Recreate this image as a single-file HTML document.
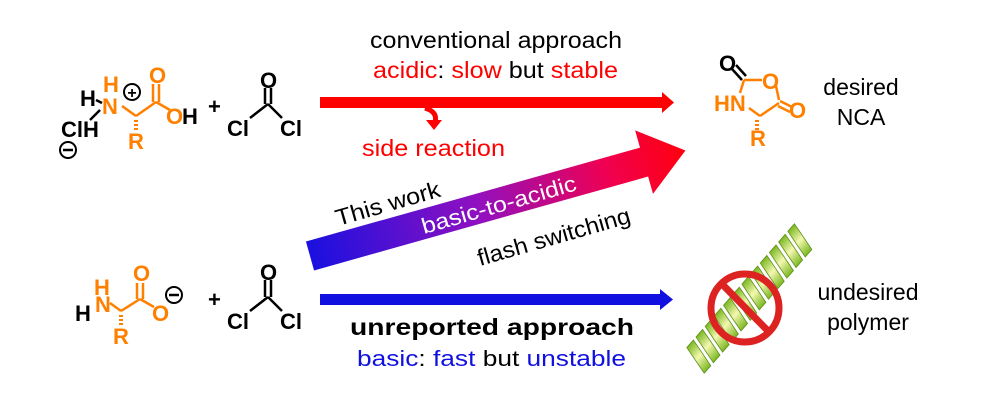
<!DOCTYPE html>
<html><head><meta charset="utf-8"><style>
html,body{margin:0;padding:0;background:#fff;}
svg{display:block}
text{font-family:"Liberation Sans",sans-serif;}
</style></head><body>
<svg width="1000" height="400" viewBox="0 0 1000 400" xmlns="http://www.w3.org/2000/svg">
<defs>
<linearGradient id="g" x1="0" y1="0" x2="387" y2="0" gradientUnits="userSpaceOnUse">
<stop offset="0" stop-color="#1a10e0"/><stop offset="0.45" stop-color="#9010c0"/><stop offset="0.8" stop-color="#f00050"/><stop offset="1" stop-color="#ff0010"/>
</linearGradient>
<linearGradient id="hx" x1="0" y1="0" x2="0" y2="1">
<stop offset="0" stop-color="#7bb822"/><stop offset="0.5" stop-color="#f4f8b0"/><stop offset="1" stop-color="#7bb822"/>
</linearGradient>
</defs>

<text x="370" y="48" font-size="23" textLength="252" lengthAdjust="spacingAndGlyphs">conventional approach</text>
<text x="373" y="78" font-size="23" textLength="245" lengthAdjust="spacingAndGlyphs"><tspan fill="#ff0000">acidic</tspan>: <tspan fill="#ff0000">slow</tspan> but <tspan fill="#ff0000">stable</tspan></text>

<polygon points="320,97 662,97 662,92 674,102.5 662,113 662,108 320,108" fill="#ff0000"/>
<path d="M425,108 Q438,112 435,122" stroke="#ff0000" stroke-width="5" fill="none"/>
<polygon points="426,120 442,120 434,130" fill="#ff0000"/>
<text x="362" y="156" font-size="23" fill="#ff0000" textLength="143" lengthAdjust="spacingAndGlyphs">side reaction</text>

<g transform="translate(310,256) rotate(-15.7)">
<polygon points="0,-15 347,-15 347,-33 390,0 347,33 347,15 0,15" fill="url(#g)"/>
</g>
<text transform="translate(338,226) rotate(-16)" font-size="23" textLength="108" lengthAdjust="spacingAndGlyphs">This work</text>
<text transform="translate(424,234) rotate(-16)" font-size="22" fill="#fff" textLength="160" lengthAdjust="spacingAndGlyphs">basic-to-acidic</text>
<text transform="translate(480,266) rotate(-16)" font-size="23" textLength="158" lengthAdjust="spacingAndGlyphs">flash switching</text>

<polygon points="320,294 660,294 660,289 673,299.5 660,310 660,305 320,305" fill="#1010e0"/>
<text x="350" y="335" font-size="23" font-weight="bold" textLength="284" lengthAdjust="spacingAndGlyphs">unreported approach</text>
<text x="357" y="366" font-size="22" textLength="269" lengthAdjust="spacingAndGlyphs"><tspan fill="#1010e0">basic</tspan>: <tspan fill="#1010e0">fast</tspan> but <tspan fill="#1010e0">unstable</tspan></text>

<text x="861" y="95" font-size="23" text-anchor="middle">desired</text>
<text x="861" y="125" font-size="23" text-anchor="middle">NCA</text>
<text x="868" y="300" font-size="23" text-anchor="middle">undesired</text>
<text x="868" y="330" font-size="23" text-anchor="middle">polymer</text>

<g font-weight="bold" font-size="22">
<g stroke="#000" stroke-width="2.5" fill="none">
<line x1="96" y1="100" x2="102" y2="103"/>
<line x1="90" y1="120" x2="100" y2="110"/>
<line x1="268" y1="104" x2="250" y2="118"/>
<line x1="268" y1="104" x2="282" y2="118"/>
<line x1="265" y1="88" x2="265" y2="104"/><line x1="271" y1="88" x2="271" y2="104"/>
</g>
<g stroke="#ff8000" stroke-width="2.5" fill="none">
<line x1="122" y1="106" x2="136" y2="116"/>
<line x1="136" y1="116" x2="156" y2="102"/>
<line x1="156" y1="102" x2="170" y2="110"/>
<line x1="153" y1="84" x2="153" y2="102"/><line x1="159" y1="84" x2="159" y2="102"/>
<line x1="136" y1="120" x2="136" y2="130" stroke-dasharray="2,2" stroke-width="4"/>
</g>
<text x="80" y="106" fill="#000">H</text>
<text x="61" y="137" fill="#000">ClH</text>
<text x="103" y="92" fill="#ff8000">H</text>
<text x="102" y="114" fill="#ff8000">N</text>
<text x="128" y="149" fill="#ff8000">R</text>
<text x="149" y="83" fill="#ff8000">O</text>
<text x="166" y="124" fill="#ff8000">O</text>
<text x="182" y="124" fill="#000">H</text>
<text x="208" y="114" fill="#000">+</text>
<text x="260" y="88" fill="#000">O</text>
<text x="227" y="136" fill="#000">Cl</text>
<text x="280" y="136" fill="#000">Cl</text>
<circle cx="132" cy="92" r="8" fill="none" stroke="#000" stroke-width="2"/>
<text x="132" y="98" font-size="16" text-anchor="middle">+</text>
<circle cx="68" cy="150" r="8" fill="none" stroke="#000" stroke-width="2"/>
<line x1="63" y1="150" x2="73" y2="150" stroke="#000" stroke-width="2.5"/>

<g stroke="#000" stroke-width="2.5" fill="none">
<line x1="268" y1="297" x2="250" y2="311"/>
<line x1="268" y1="297" x2="282" y2="311"/>
<line x1="265" y1="280" x2="265" y2="297"/><line x1="271" y1="280" x2="271" y2="297"/>
</g>
<g stroke="#ff8000" stroke-width="2.5" fill="none">
<line x1="110" y1="303" x2="121" y2="311"/>
<line x1="121" y1="311" x2="140" y2="299"/>
<line x1="140" y1="299" x2="154" y2="307"/>
<line x1="137" y1="283" x2="137" y2="299"/><line x1="143" y1="283" x2="143" y2="299"/>
<line x1="121" y1="315" x2="121" y2="326" stroke-dasharray="2,2" stroke-width="4"/>
</g>
<text x="75" y="321" fill="#000">H</text>
<text x="94" y="295" fill="#ff8000">H</text>
<text x="95" y="312" fill="#ff8000">N</text>
<text x="113" y="344" fill="#ff8000">R</text>
<text x="133" y="281" fill="#ff8000">O</text>
<text x="152" y="321" fill="#ff8000">O</text>
<circle cx="174" cy="295" r="8" fill="none" stroke="#000" stroke-width="2"/>
<line x1="169" y1="295" x2="179" y2="295" stroke="#000" stroke-width="2.5"/>
<text x="208" y="307" fill="#000">+</text>
<text x="260" y="280" fill="#000">O</text>
<text x="227" y="329" fill="#000">Cl</text>
<text x="280" y="329" fill="#000">Cl</text>

<g stroke="#ff8000" stroke-width="2.5" fill="none">
<line x1="744" y1="80" x2="762" y2="80"/>
<line x1="776" y1="86" x2="779" y2="100"/>
<line x1="779" y1="103" x2="760" y2="116"/>
<line x1="760" y1="116" x2="749" y2="108"/>
<line x1="744" y1="80" x2="740" y2="93"/>
<line x1="780" y1="101" x2="792" y2="107"/><line x1="778" y1="106" x2="790" y2="112"/>
<line x1="757" y1="120" x2="757" y2="130" stroke-dasharray="2,2" stroke-width="4"/>
</g>
<g stroke="#000" stroke-width="2.5"><line x1="732" y1="69" x2="742" y2="80"/><line x1="736" y1="65" x2="746" y2="76"/></g>
<text x="719" y="71" fill="#000">O</text>
<text x="762" y="89" fill="#ff8000">O</text>
<text x="789" y="118" fill="#ff8000">O</text>
<text x="714" y="111" fill="#ff8000">HN</text>
<text x="750" y="146" fill="#ff8000">R</text>
</g>

<g transform="translate(748,300) rotate(-49)">
<g fill="url(#hx)" stroke="#5f8f1a" stroke-width="0.8">
<path d="M-76,-15 l10,0 l-8,30 l-10,0z"/>
<path d="M-62,-15 l10,0 l-8,30 l-10,0z"/>
<path d="M-48,-15 l10,0 l-8,30 l-10,0z"/>
<path d="M-34,-15 l10,0 l-8,30 l-10,0z"/>
<path d="M-20,-15 l10,0 l-8,30 l-10,0z"/>
<path d="M-6,-15 l10,0 l-8,30 l-10,0z"/>
<path d="M8,-15 l10,0 l-8,30 l-10,0z"/>
<path d="M22,-15 l10,0 l-8,30 l-10,0z"/>
<path d="M36,-15 l10,0 l-8,30 l-10,0z"/>
<path d="M50,-15 l10,0 l-8,30 l-10,0z"/>
<path d="M64,-15 l10,0 l-8,30 l-10,0z"/>
<path d="M78,-15 l10,0 l-8,30 l-10,0z"/>
</g>
</g>
<circle cx="745" cy="308" r="34" fill="none" stroke="#dd2222" stroke-width="7"/>
<line x1="722" y1="284" x2="769" y2="332" stroke="#dd2222" stroke-width="7"/>
</svg>
</body></html>
